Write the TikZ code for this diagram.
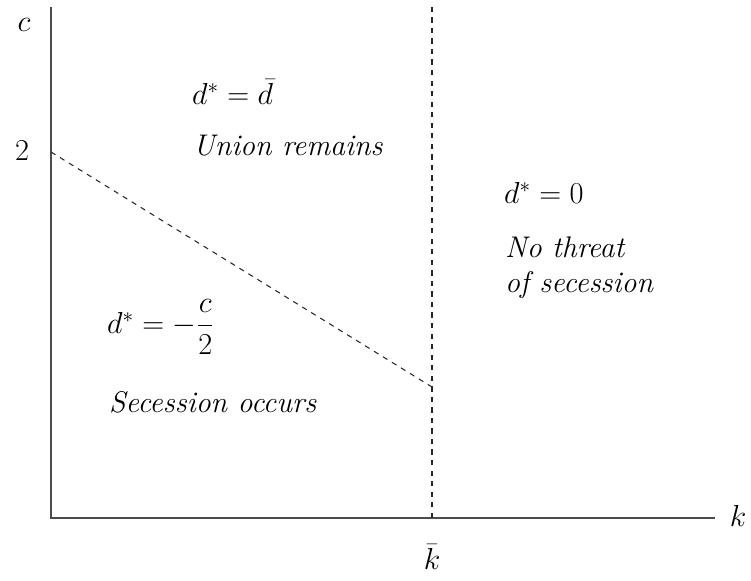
\documentclass[tikz,border=0pt]{standalone}
\usepackage{amsmath}
\usetikzlibrary{positioning, calc}

\begin{document}
\begin{tikzpicture}[
    x=0.02cm, y=-0.02cm,
    axis/.style={draw, thick, color=black!70},
    guide/.style={draw, line width=0.6pt, dashed, color=black!85},
    label/.style={font=\fontsize{17}{20}\selectfont, inner sep=1pt},
    region/.style={font=\fontsize{17}{20}\selectfont\itshape, align=left, inner sep=1pt}
]
    \useasboundingbox (0,0) rectangle (751,581);

    % Axes
    \coordinate (origin) at (51,518);
    \coordinate (ctop) at (51,7);
    \coordinate (kend) at (715,518);
    \draw [axis] (ctop) -- (origin) -- (kend);

    \node [label, anchor=center] (clabel) at (24,25) {$c$};
    \node [label, anchor=center] (klabel) at (738,516) {$k$};
    \node [label, anchor=center] (two) at (22,151) {$2$};

    % Threshold kbar
    \coordinate (kbar) at (432,518);
    \coordinate (kbartop) at (432,5);
    \coordinate (cint) at (51,152);
    \coordinate (kcut) at (432,387);
    \path [guide] (kbar) -- (kbartop);
    \path [guide] (cint) -- (kcut);
    \node [label] (kbarlabel) at (432,557) {$\bar{k}$};

    % Regions
    \node [label, anchor=west] (union) at (190,92) {$d^{*} = \bar{d}$};
    \node [region, anchor=west] (unionrem) at (191,146) {Union remains};

    \node [label, anchor=west] (nothreat) at (502,193) {$d^{*} = 0$};
    \node [region, anchor=west] (nothreattxt) at (503,268) {No threat\\of secession};

    \node [label, anchor=west] (secession) at (105,327) {$d^{*} = -\dfrac{c}{2}$};
    \node [region, anchor=west] (secessiontxt) at (107,402) {Secession occurs};

\end{tikzpicture}
\end{document}
